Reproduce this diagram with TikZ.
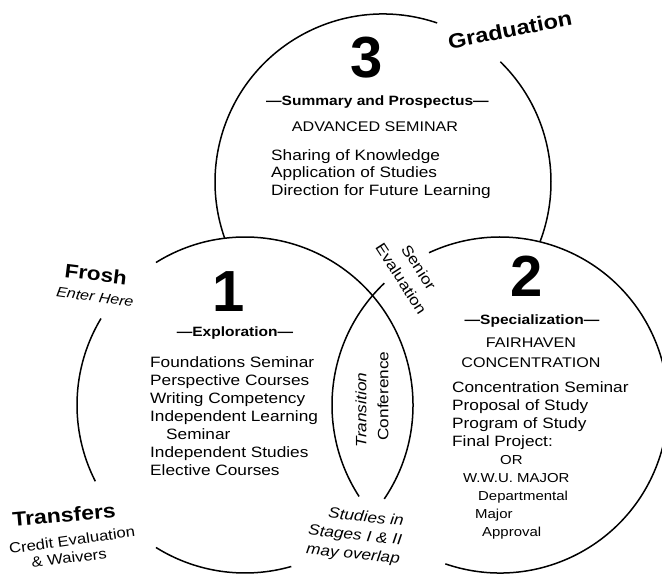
\documentclass[tikz,border=0pt]{standalone}
\usepackage{fontspec}
\setmainfont{Liberation Sans}
\newfontfamily\rf[FakeStretch=1.15]{Liberation Sans}
\newfontfamily\nf{Liberation Sans}
\newcommand{\smline}[1]{{\fontsize{13}{18}\selectfont #1}}
\begin{document}
\begin{tikzpicture}[x=1pt,y=1pt,
  ring/.style={line width=1.5pt},
  num/.style={inner sep=0pt, font=\nf\bfseries\fontsize{58}{58}\selectfont},
  head/.style={inner sep=0pt, font=\rf\bfseries\fontsize{13.5}{16}\selectfont},
  body/.style={inner sep=0pt, align=left, anchor=north west, font=\rf\fontsize{15}{18}\selectfont},
  caps/.style={inner sep=0pt, align=center, font=\rf\fontsize{14}{20}\selectfont},
  plain/.style={inner sep=0pt, font=\rf\fontsize{15}{18}\selectfont},
  note/.style={inner sep=0pt, font=\rf\itshape\fontsize{15}{19}\selectfont}
]
\useasboundingbox (0,0) rectangle (662,578);
\coordinate (c1) at (245,173);
\coordinate (c2) at (500,173);
\coordinate (c3) at (383,396);

% circle 3 (behind)
\draw[ring] (c3) ++(-20.9:168) arc[start angle=-20.9, end angle=45.7, radius=168];
\draw[ring] (c3) ++(71.2:168) arc[start angle=71.2, end angle=199.6, radius=168];
% circle 1
\draw[ring] (c1) ++(-34:168) arc[start angle=-34, end angle=122, radius=168];
\draw[ring] (c1) ++(149:168) arc[start angle=149, end angle=207, radius=168];
\draw[ring] (c1) ++(238:168) arc[start angle=238, end angle=286, radius=168];
% circle 2
\draw[ring] (c2) ++(-109:168) arc[start angle=-109, end angle=115, radius=168];
\draw[ring] (c2) ++(133.5:168) arc[start angle=133.5, end angle=213, radius=168];

% stage 3
\node[num] (n3) at (367,520.5) {3};
\node[head] (h3) at (377.5,476) {—Summary and Prospectus—};
\node[caps] (adv) at (375,451) {ADVANCED SEMINAR};
\node[body, font=\rf\fontsize{15}{17.5}\selectfont] (b3) at (271,429)
  {Sharing of Knowledge\\Application of Studies\\Direction for Future Learning};

% stage 1
\node[num] (n1) at (229,286) {1};
\node[head] (h1) at (235,245) {—Exploration—};
\node[body] (b1) at (150,222)
  {Foundations Seminar\\Perspective Courses\\Writing Competency\\Independent Learning\\\hspace{16pt}Seminar\\Independent Studies\\Elective Courses};

% stage 2
\node[num] (n2) at (527,302) {2};
\node[head] (h2) at (532,257) {—Specialization—};
\node[caps] (fc) at (531,225) {FAIRHAVEN\\CONCENTRATION};
\node[body] (b2) at (452,197)
  {Concentration Seminar\\Proposal of Study\\Program of Study\\Final Project:\\\hspace{48pt}\smline{OR}\\\hspace{11pt}\smline{W.W.U. MAJOR}\\\hspace{26pt}\smline{Departmental}\\\hspace{23pt}\smline{Major}\\\hspace{30pt}\smline{Approval}};

% side labels
\node[inner sep=0pt, font=\rf\bfseries\fontsize{19.5}{22}\selectfont, rotate=-7] (frosh) at (96,304) {Frosh};
\node[inner sep=0pt, font=\rf\itshape\fontsize{14}{16}\selectfont, rotate=-8] (enter) at (95,281) {Enter Here};
\node[inner sep=0pt, font=\rf\bfseries\fontsize{20}{22}\selectfont, rotate=5] (trans) at (64,63) {Transfers};
\node[inner sep=0pt, font=\rf\fontsize{14.5}{16}\selectfont, rotate=8] (credit) at (72,38) {Credit Evaluation};
\node[inner sep=0pt, font=\rf\fontsize{14.5}{16}\selectfont, rotate=7] (waiv) at (69,20) {\& Waivers};
\node[inner sep=0pt, font=\rf\bfseries\fontsize{20.5}{22}\selectfont, rotate=11] (grad) at (510,548) {Graduation};

% overlap labels
\node[plain, rotate=-57, align=center, font=\rf\fontsize{15}{21}\selectfont] (senior) at (410,305) {Senior\\Evaluation};
\node[plain, rotate=90, font=\rf\itshape\fontsize{15}{18}\selectfont] (trn) at (361,168) {Transition};
\node[plain, rotate=90] (conf) at (383,182) {Conference};
\node[note, align=right, rotate=-6] (overlap) at (355,42) {Studies in\\Stages I \& II\\may overlap};
\end{tikzpicture}
\end{document}
